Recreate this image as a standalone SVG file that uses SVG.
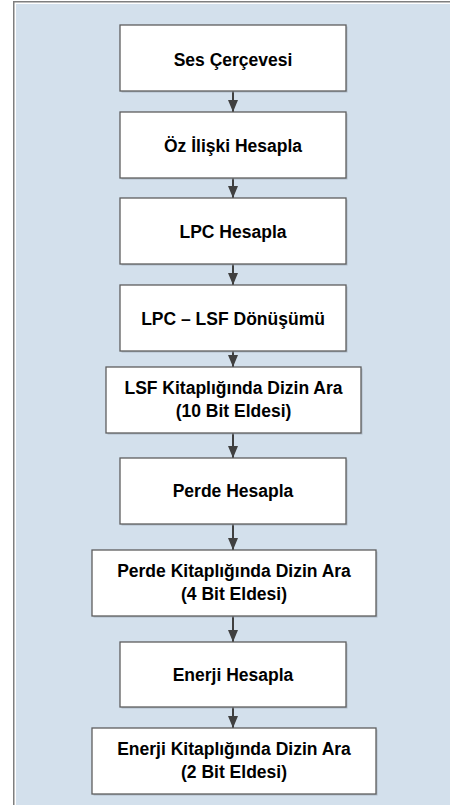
<svg xmlns="http://www.w3.org/2000/svg" width="450" height="805" viewBox="0 0 450 805">
<defs>
<style>
.box{fill:#ffffff;stroke:#5e5e5e;stroke-width:1.3}
.shadow{fill:#9aa5b0;opacity:0.6}
.lbl{font-family:"Liberation Sans",Arial,sans-serif;font-weight:bold;font-size:17.5px;fill:#000000;text-anchor:middle}
.conn{stroke:#404040;stroke-width:2;fill:none}
</style>
<marker id="ah" viewBox="0 0 12 10" refX="12" refY="5" markerWidth="12" markerHeight="10" markerUnits="userSpaceOnUse" orient="auto">
<path d="M0,0 L12,5 L0,10 z" fill="#404040"/>
</marker>
</defs>
<rect x="0" y="0" width="450" height="805" fill="#ffffff"/>
<rect x="13.75" y="1.75" width="500" height="900" fill="#ffffff" stroke="#7f7f7f" stroke-width="1.5"/>
<rect x="16" y="4" width="434" height="801" fill="#d3e0ec"/>

<g id="connectors">
<line class="conn" x1="233" y1="91" x2="233" y2="112" marker-end="url(#ah)"/>
<line class="conn" x1="233" y1="178" x2="233" y2="198" marker-end="url(#ah)"/>
<line class="conn" x1="233" y1="264" x2="233" y2="285" marker-end="url(#ah)"/>
<line class="conn" x1="233" y1="351" x2="233" y2="367" marker-end="url(#ah)"/>
<line class="conn" x1="233" y1="433" x2="233" y2="458" marker-end="url(#ah)"/>
<line class="conn" x1="233" y1="524" x2="233" y2="550" marker-end="url(#ah)"/>
<line class="conn" x1="233" y1="616" x2="233" y2="642" marker-end="url(#ah)"/>
<line class="conn" x1="233" y1="707" x2="233" y2="728" marker-end="url(#ah)"/>
</g>

<g id="n1">
<rect class="shadow" x="121.5" y="26.5" width="226" height="66"/>
<rect class="box" x="120" y="25" width="226" height="66"/>
<text class="lbl" x="233" y="66">Ses Çerçevesi</text>
</g>
<g id="n2">
<rect class="shadow" x="121.5" y="113.5" width="226" height="66"/>
<rect class="box" x="120" y="112" width="226" height="66"/>
<text class="lbl" x="233" y="152">Öz İlişki Hesapla</text>
</g>
<g id="n3">
<rect class="shadow" x="121.5" y="199.5" width="226" height="66"/>
<rect class="box" x="120" y="198" width="226" height="66"/>
<text class="lbl" x="233" y="238">LPC Hesapla</text>
</g>
<g id="n4">
<rect class="shadow" x="121.5" y="286.5" width="226" height="66"/>
<rect class="box" x="120" y="285" width="226" height="66"/>
<text class="lbl" x="233" y="325">LPC – LSF Dönüşümü</text>
</g>
<g id="n5">
<rect class="shadow" x="107.5" y="368.5" width="255" height="66"/>
<rect class="box" x="106" y="367" width="255" height="66"/>
<text class="lbl" x="233.5" y="393.5">LSF Kitaplığında Dizin Ara</text>
<text class="lbl" x="233.5" y="416.5">(10 Bit Eldesi)</text>
</g>
<g id="n6">
<rect class="shadow" x="121.5" y="459.5" width="226" height="66"/>
<rect class="box" x="120" y="458" width="226" height="66"/>
<text class="lbl" x="233" y="497">Perde Hesapla</text>
</g>
<g id="n7">
<rect class="shadow" x="93.5" y="551.5" width="284" height="66"/>
<rect class="box" x="92" y="550" width="284" height="66"/>
<text class="lbl" x="234" y="577">Perde Kitaplığında Dizin Ara</text>
<text class="lbl" x="234" y="600">(4 Bit Eldesi)</text>
</g>
<g id="n8">
<rect class="shadow" x="121.5" y="643.5" width="226" height="65"/>
<rect class="box" x="120" y="642" width="226" height="65"/>
<text class="lbl" x="233" y="681">Enerji Hesapla</text>
</g>
<g id="n9">
<rect class="shadow" x="93.5" y="729.5" width="284" height="66"/>
<rect class="box" x="92" y="728" width="284" height="66"/>
<text class="lbl" x="234" y="755">Enerji Kitaplığında Dizin Ara</text>
<text class="lbl" x="234" y="778">(2 Bit Eldesi)</text>
</g>
</svg>
